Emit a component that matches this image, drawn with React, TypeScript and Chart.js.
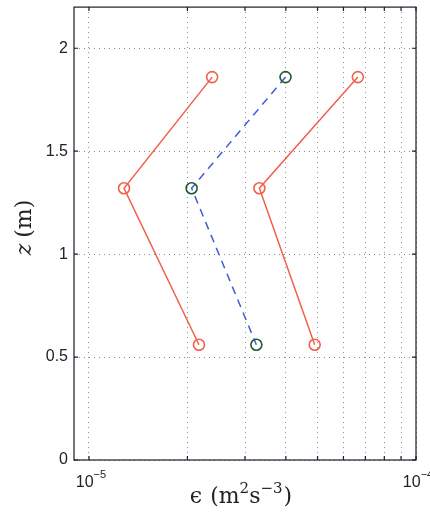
import React, { useEffect, useRef } from "react";
import { Chart, registerables } from "chart.js";

Chart.register(...registerables);

// Heights of the three measurement levels (m)
const heights = [1.86, 1.32, 0.56];
// Dissipation rate epsilon (m^2 s^-3) for each profile
const leftRed = [2.38e-5, 1.28e-5, 2.17e-5];
const midDashed = [3.99e-5, 2.06e-5, 3.25e-5];
const rightRed = [6.64e-5, 3.32e-5, 4.9e-5];

const xTickValues = [1e-5, 2e-5, 3e-5, 4e-5, 5e-5, 6e-5, 7e-5, 8e-5, 9e-5, 1e-4];
// labelled x ticks: base and exponent
const xLabelValues = [1e-5, 1e-4];
const xLabelBase = ["10", "10"];
const xLabelExp = ["−5", "−4"];
const yTickValues = [0, 0.5, 1, 1.5, 2];
const yTickLabels = ["0", "0.5", "1", "1.5", "2"];

const RED = "#f0604a";
const BLUE = "#3f5fd2";
const GREEN = "#1f5a2e";
const FRAME = "#1c1c2c";
const TEXT = "#222";
const SANS = "'Liberation Sans', 'DejaVu Sans', Arial, sans-serif";
const SERIF = "'DejaVu Serif', 'Liberation Serif', serif";

type Seg = { t: string; font: string; dy: number; gap?: number };

function drawSegs(ctx: CanvasRenderingContext2D, segs: Seg[], cx: number, baseY: number) {
  let total = 0;
  const widths = segs.map((s) => {
    ctx.font = s.font;
    const w = ctx.measureText(s.t).width + (s.gap || 0);
    total += w;
    return w;
  });
  let x = cx - total / 2;
  segs.forEach((s, i) => {
    ctx.font = s.font;
    ctx.fillText(s.t, x, baseY + s.dy);
    x += widths[i];
  });
}

const framePlugin = {
  id: "frameTicks",
  afterDatasetsDraw(chart: any) {
    const { ctx, chartArea, scales } = chart;
    const { left, right, top, bottom } = chartArea;
    const xs = scales.x;
    const ys = scales.y;
    ctx.save();
    ctx.strokeStyle = FRAME;
    ctx.lineWidth = 1.2;
    ctx.beginPath();
    const tl = 4;
    xTickValues.forEach((v) => {
      const px = xs.getPixelForValue(v);
      ctx.moveTo(px, bottom);
      ctx.lineTo(px, bottom - tl);
      ctx.moveTo(px, top);
      ctx.lineTo(px, top + tl);
    });
    yTickValues.forEach((v) => {
      const py = ys.getPixelForValue(v);
      ctx.moveTo(left, py);
      ctx.lineTo(left + tl, py);
      ctx.moveTo(right, py);
      ctx.lineTo(right - tl, py);
    });
    ctx.stroke();
    ctx.strokeRect(left, top, right - left, bottom - top);

    // x tick labels with superscript exponents
    ctx.fillStyle = TEXT;
    ctx.textAlign = "left";
    ctx.textBaseline = "alphabetic";
    xLabelValues.forEach((v, i) => {
      const px = xs.getPixelForValue(v);
      drawSegs(
        ctx,
        [
          { t: xLabelBase[i], font: `16px ${SANS}`, dy: 0 },
          { t: xLabelExp[i], font: `11px ${SANS}`, dy: -9 },
        ],
        px + 2,
        bottom + 27
      );
    });

    // x axis title
    const big = `22px ${SERIF}`;
    const small = `15px ${SERIF}`;
    drawSegs(
      ctx,
      [
        { t: "ϵ", font: big, dy: 0, gap: 8 },
        { t: "(m", font: big, dy: 0 },
        { t: "2", font: small, dy: -10 },
        { t: "s", font: big, dy: 0 },
        { t: "−3", font: small, dy: -10, gap: 1 },
        { t: ")", font: big, dy: 0 },
      ],
      (left + right) / 2 - 4,
      bottom + 43
    );

    // y axis title (rotated)
    ctx.translate(31, (top + bottom) / 2 - 6);
    ctx.rotate(-Math.PI / 2);
    drawSegs(
      ctx,
      [
        { t: "z", font: `italic 22px ${SERIF}`, dy: 0, gap: 6 },
        { t: "(m)", font: big, dy: 0 },
      ],
      0,
      0
    );
    ctx.restore();
  },
};

const toPoints = (xs: number[]) => heights.map((h, i) => ({ x: xs[i], y: h }));

export default function App() {
  const canvasRef = useRef<HTMLCanvasElement | null>(null);

  useEffect(() => {
    if (!canvasRef.current) return;
    const tickFont = { family: SANS, size: 16 };
    const lineDs = (xs: number[], color: string, pointColor: string, dash: number[]) => ({
      data: toPoints(xs),
      borderColor: color,
      borderWidth: 1.5,
      borderDash: dash,
      pointRadius: 5.5,
      pointBorderColor: pointColor,
      pointBackgroundColor: "rgba(0,0,0,0)",
      pointBorderWidth: 1.6,
      tension: 0,
      fill: false,
    });
    const chart = new Chart(canvasRef.current, {
      type: "line",
      data: {
        datasets: [
          lineDs(leftRed, RED, RED, []),
          lineDs(midDashed, BLUE, GREEN, [8, 6]),
          lineDs(rightRed, RED, RED, []),
        ],
      },
      options: {
        animation: false,
        responsive: true,
        maintainAspectRatio: false,
        layout: { padding: { left: 0, right: 14, top: 4, bottom: 0 } },
        plugins: { legend: { display: false }, tooltip: { enabled: false } },
        scales: {
          x: {
            type: "logarithmic",
            min: 9e-6,
            max: 1e-4,
            afterBuildTicks: (s: any) => {
              s.ticks = xTickValues.map((v) => ({ value: v }));
            },
            afterFit: (s: any) => {
              s.height = 55;
              s.paddingLeft = 0;
              s.paddingRight = 0;
            },
            ticks: { display: false, autoSkip: false, maxRotation: 0 },
            grid: { color: "#8a8a8a", lineWidth: 1, drawTicks: false },
            border: { display: false, dash: [1, 4] },
            title: { display: false },
          },
          y: {
            type: "linear",
            min: 0,
            max: 2.2,
            afterBuildTicks: (s: any) => {
              s.ticks = yTickValues.map((v) => ({ value: v }));
            },
            afterFit: (s: any) => {
              s.width = 74;
              s.paddingTop = 0;
              s.paddingBottom = 0;
            },
            ticks: {
              padding: 6,
              color: TEXT,
              font: tickFont,
              callback: (_v: any, i: number) => yTickLabels[i],
            },
            grid: { color: "#8a8a8a", lineWidth: 1, drawTicks: false },
            border: { display: false, dash: [1, 4] },
            title: { display: false },
          },
        },
      },
      plugins: [framePlugin],
    } as any);
    return () => chart.destroy();
  }, []);

  return (
    <div style={{ position: "fixed", left: 0, top: 0, width: 430, height: 515, background: "#fff" }}>
      <canvas ref={canvasRef} />
    </div>
  );
}
